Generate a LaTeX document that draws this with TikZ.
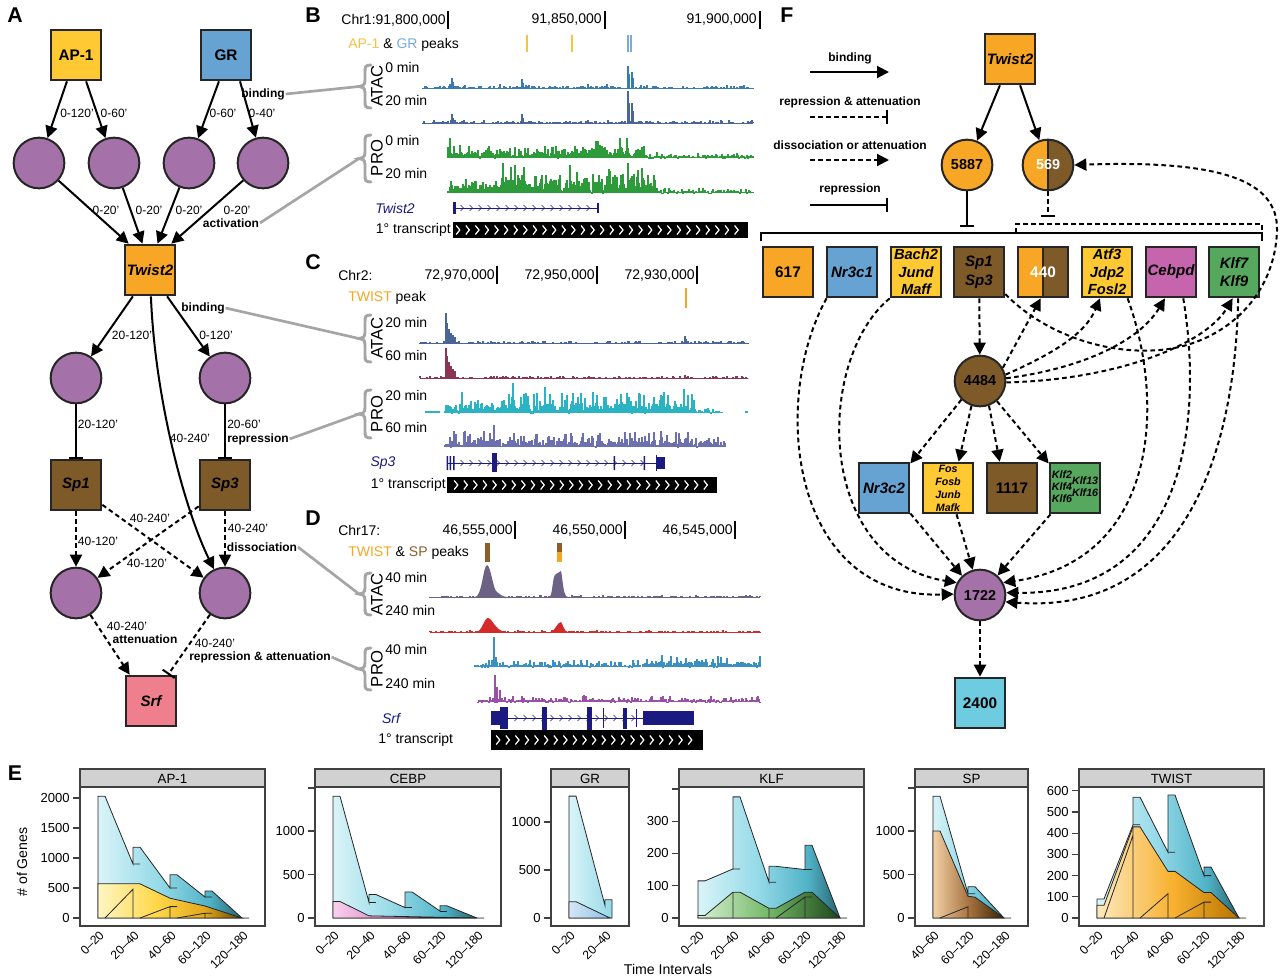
\documentclass[tikz,border=0pt]{standalone}
\usepackage{fontspec}
\setmainfont{Liberation Sans}
\usetikzlibrary{arrows.meta}
\definecolor{cyel}{HTML}{FFC933}
\definecolor{cblu}{HTML}{66A3D3}
\definecolor{cpur}{HTML}{A471A8}
\definecolor{cora}{HTML}{F8A625}
\definecolor{cbro}{HTML}{7E5A28}
\definecolor{cpnk}{HTML}{F07F8E}
\definecolor{cmag}{HTML}{C664AE}
\definecolor{cgrn}{HTML}{55A85E}
\definecolor{ccya}{HTML}{6DCCE0}
\definecolor{cnav}{HTML}{1A1A80}
\definecolor{cgry}{HTML}{A5A5A5}
\definecolor{apc}{HTML}{F5C242}
\definecolor{grc}{HTML}{78AADA}
\definecolor{twc}{HTML}{F5A623}
\definecolor{spc}{HTML}{8B5E2B}
\definecolor{tA1}{HTML}{3A7AB5}
\definecolor{tA2}{HTML}{4A6598}
\definecolor{tG}{HTML}{2E9B3A}
\definecolor{cA2}{HTML}{8B3550}
\definecolor{cP1}{HTML}{29B3C3}
\definecolor{cP2}{HTML}{6D70B0}
\definecolor{dA1}{HTML}{6C6285}
\definecolor{dA2}{HTML}{D42A2A}
\definecolor{dP1}{HTML}{3A90C0}
\definecolor{dP2}{HTML}{9A4FA8}
\definecolor{b0}{HTML}{DAF4F8}
\definecolor{b1}{HTML}{95DAE8}
\definecolor{b2}{HTML}{50B2C6}
\definecolor{b3}{HTML}{1C4E5A}
\definecolor{y0}{HTML}{FFF6C4}
\definecolor{y1}{HTML}{FFD84A}
\definecolor{y2}{HTML}{E3A81A}
\definecolor{y3}{HTML}{5E4208}
\definecolor{p0}{HTML}{F9D0EE}
\definecolor{p1}{HTML}{D070B8}
\definecolor{p3}{HTML}{5A1A4E}
\definecolor{l0}{HTML}{D6E6F6}
\definecolor{l1}{HTML}{8CC0E6}
\definecolor{g0}{HTML}{D9F0D2}
\definecolor{g1}{HTML}{72B866}
\definecolor{g3}{HTML}{1C461A}
\definecolor{r0}{HTML}{F2D0A6}
\definecolor{r1}{HTML}{A87440}
\definecolor{r3}{HTML}{3A2006}
\definecolor{o0}{HTML}{FDE9BE}
\definecolor{o1}{HTML}{F8B02E}
\definecolor{o3}{HTML}{B87400}
\pgfdeclarehorizontalshading{blsh}{100bp}{color(0bp)=(b0); color(25bp)=(b0); color(45bp)=(b1); color(62bp)=(b2); color(75bp)=(b3); color(100bp)=(b3)}
\pgfdeclarehorizontalshading{grsh}{100bp}{color(0bp)=(b0); color(25bp)=(b0); color(75bp)=(b1); color(100bp)=(b1)}
\pgfdeclarehorizontalshading{yesh}{100bp}{color(0bp)=(y0); color(25bp)=(y0); color(45bp)=(y1); color(62bp)=(y2); color(75bp)=(y3); color(100bp)=(y3)}
\pgfdeclarehorizontalshading{pksh}{100bp}{color(0bp)=(p0); color(25bp)=(p0); color(50bp)=(p1); color(75bp)=(p3); color(100bp)=(p3)}
\pgfdeclarehorizontalshading{lbsh}{100bp}{color(0bp)=(l0); color(25bp)=(l0); color(75bp)=(l1); color(100bp)=(l1)}
\pgfdeclarehorizontalshading{gnsh}{100bp}{color(0bp)=(g0); color(25bp)=(g0); color(50bp)=(g1); color(75bp)=(g3); color(100bp)=(g3)}
\pgfdeclarehorizontalshading{brsh}{100bp}{color(0bp)=(r0); color(25bp)=(r0); color(50bp)=(r1); color(75bp)=(r3); color(100bp)=(r3)}
\pgfdeclarehorizontalshading{orsh}{100bp}{color(0bp)=(o0); color(25bp)=(o0); color(52bp)=(o1); color(75bp)=(o3); color(100bp)=(o3)}
\newcommand\sig[6]{\foreach \xx in {#1,...,#2}{\pgfmathsetmacro\hh{#5*rnd+#6*rnd^4}\draw[#4,line width=0.9pt] (\xx,#3) -- (\xx,#3-\hh);}}
\newcommand\pk[4]{\draw[#4,line width=1pt] (#1,#2) -- (#1,#2-#3);}
\newcommand\gchev[4]{\foreach \cx in {#1,#2,...,#3}{\draw[cnav,line width=0.5pt] (\cx-1.5,#4-3) -- (\cx+1.5,#4) -- (\cx-1.5,#4+3);}}
\newcommand\tchev[4]{\foreach \cx in {#1,#2,...,#3}{\draw[white,line width=0.9pt] (\cx-1.8,#4-4.5) -- (\cx+1.8,#4) -- (\cx-1.8,#4+4.5);}}
\newcommand\cbrace[4]{\pgfmathsetmacro\bm{(#3+#4)/2}%
 \draw[cgry,line width=2.2pt,line cap=round] (#2+12,#3) .. controls (#2+6,#3) and (#2+6,#3+2) .. (#2+6,#3+7) -- (#2+6,\bm-6) .. controls (#2+6,\bm-1) and (#2+3,\bm) .. (#2,\bm) .. controls (#2+3,\bm) and (#2+6,\bm+1) .. (#2+6,\bm+6) -- (#2+6,#4-7) .. controls (#2+6,#4-2) and (#2+6,#4) .. (#2+12,#4);
 \coordinate (#1) at (#2,\bm);}
\newcommand\epanel[4]{\draw[black!75,line width=0.8pt,fill=black!18] (#1,769) rectangle (#2,787);
 \node[font=\fontsize{10}{11}\selectfont,inner sep=0pt] (#4) at ({(#1+#2)/2},778.5) {#3};
 \draw[black!75,line width=0.8pt] (#1,787) rectangle (#2,926);}
\newcommand\ytk[3]{\draw[black!75,line width=0.8pt] (#1-7,#2) -- (#1,#2); \node[ax,anchor=east] at (#1-10,#2) {#3};}
\newcommand\xlb[2]{\node[ax,font=\fontsize{9.2}{10}\selectfont,rotate=45,anchor=east] at (#1+4,933) {#2};}
\begin{document}
\begin{tikzpicture}[x=0.75pt,y=-0.75pt,
  box/.style={draw=black!85,line width=1.5pt,minimum width=38pt,minimum height=38pt,inner sep=0pt,align=center,font=\bfseries\fontsize{11.5}{13}\selectfont},
  gbox/.style={box,font=\bfseries\itshape\fontsize{11.3}{14}\selectfont},
  circ/.style={circle,draw=black!85,line width=1.5pt,minimum size=38pt,inner sep=0pt,font=\bfseries\fontsize{10.8}{12}\selectfont},
  arr/.style={line width=1.5pt,-{Triangle[length=9pt,width=9pt]}},
  darr/.style={arr,dash pattern=on 3.5pt off 2.5pt},
  rep/.style={line width=1.5pt,-{Bar[width=11pt,line width=1.5pt]}},
  drep/.style={rep,dash pattern=on 3.5pt off 2.5pt},
  lab/.style={font=\fontsize{9}{10}\selectfont,inner sep=0.5pt},
  blab/.style={font=\bfseries\fontsize{9}{10}\selectfont,inner sep=0.5pt},
  callout/.style={cgry,line width=2pt},
  trk/.style={font=\fontsize{10.5}{12}\selectfont,anchor=west,inner sep=0pt},
  plet/.style={font=\bfseries\fontsize{16}{18}\selectfont,inner sep=0pt},
  ax/.style={font=\fontsize{9.8}{11}\selectfont,inner sep=0pt},
  pl/.style={draw=black!85,line width=0.6pt},
]
\useasboundingbox (0,0) rectangle (1280,979);
\pgfmathsetseed{7}
% ================= panel letters
\node[plet] (LA) at (15,15) {A};
\node[plet] (LB) at (313,15) {B};
\node[plet] (LC) at (313,262) {C};
\node[plet] (LD) at (313,518) {D};
\node[plet] (LE) at (15,773) {E};
\node[plet] (LF) at (787,15) {F};
% ================= panel A
\node[box,fill=cyel] (ap1) at (76,55) {AP-1};
\node[box,fill=cblu] (gr) at (226,55) {GR};
\node[circ,fill=cpur] (a1) at (39,163) {};
\node[circ,fill=cpur] (a2) at (114,163) {};
\node[circ,fill=cpur] (a3) at (189,163) {};
\node[circ,fill=cpur] (a4) at (263,163) {};
\node[gbox,fill=cora] (tw) at (150,270) {Twist2};
\node[circ,fill=cpur] (a5) at (76,378) {};
\node[circ,fill=cpur] (a6) at (225,378) {};
\node[gbox,fill=cbro] (sp1) at (76,485) {Sp1};
\node[gbox,fill=cbro] (sp3) at (225,485) {Sp3};
\node[circ,fill=cpur] (a7) at (76,593) {};
\node[circ,fill=cpur] (a8) at (225,593) {};
\node[gbox,fill=cpnk] (srf) at (151,701) {Srf};
\draw[arr] (ap1.-109) -- (a1);
\draw[arr] (ap1.-69) -- (a2);
\draw[arr] (gr.-105) -- (a3);
\draw[arr] (gr.-62) -- (a4);
\draw[arr] (a1) -- (tw.129);
\draw[arr] (a2) -- (tw.106);
\draw[arr] (a3) -- (tw.74);
\draw[arr] (a4) -- (tw.51);
\draw[arr] (tw.-123) -- (a5);
\draw[arr] (tw.-57) -- (a6);
\draw[arr] (tw.-88) .. controls (155,400) and (185,510) .. (a8.115);
\draw[rep] (a5) -- (sp1);
\draw[rep] (a6) -- (sp3);
\draw[darr] (sp1) -- (a7);
\draw[darr] (sp3) -- (a8);
\draw[darr] (sp1.-37) -- (a8);
\draw[darr] (sp3.-141) -- (a7);
\draw[darr] (a7) -- (srf.129);
\draw[drep] (a8) -- (srf.57);
\node[lab] (e1) at (77,113) {0-120'};
\node[lab] (e2) at (114,113) {0-60'};
\node[lab] (e3) at (223,113) {0-60'};
\node[lab] (e4) at (262,113) {0-40'};
\node[blab] (bind1) at (263,94) {binding};
\node[lab] (e5) at (106,210) {0-20'};
\node[lab] (e6) at (149,210) {0-20'};
\node[lab] (e7) at (189,210) {0-20'};
\node[lab] (e8) at (237,210) {0-20'};
\node[blab] (act) at (231,223) {activation};
\node[blab] (bind2) at (203,308) {binding};
\node[lab] (e9) at (132,335) {20-120'};
\node[lab] (e10) at (216,335) {0-120'};
\node[lab] (e11) at (98,424) {20-120'};
\node[lab] (e12) at (190,438) {40-240'};
\node[lab] (e13) at (244,424) {20-60'};
\node[blab] (repr) at (258,439) {repression};
\node[lab] (e14) at (150,518) {40-240'};
\node[lab] (e15) at (98,541) {40-120'};
\node[lab] (e16) at (147,563) {40-120'};
\node[lab] (e17) at (248,528) {40-240'};
\node[blab] (diss) at (262,547) {dissociation};
\node[lab] (e18) at (127,626) {40-240'};
\node[blab] (att) at (145,639) {attenuation};
\node[lab] (e19) at (215,643) {40-240'};
\node[blab] (repatt) at (260,657) {repression \& attenuation};
% ================= braces and callouts
\cbrace{bA}{359}{65}{108}
\cbrace{bP}{359}{135}{182}
\cbrace{cA}{359}{315}{362}
\cbrace{cP}{359}{390}{438}
\cbrace{dA}{359}{573}{615}
\cbrace{dP}{359}{648}{690}
\draw[callout] (bind1.east) -- (bA);
\draw[callout] (act.east) -- (bP);
\draw[callout] (bind2.east) -- (cA);
\draw[callout] (repr.east) -- (cP);
\draw[callout] (diss.east) -- (dA);
\draw[callout] (repatt.east) -- (dP);
\foreach \yy/\tt/\nn in {86/ATAC/r1,158/PRO/r2,338/ATAC/r3,414/PRO/r4,594/ATAC/r5,669/PRO/r6}
  \node[rotate=90,font=\fontsize{12.5}{13}\selectfont,inner sep=0pt] (\nn) at (377,\yy) {\tt};
% ================= panel B
\node[trk,anchor=east] (b1) at (446,20) {Chr1:91,800,000};
\node[trk,anchor=east] (b2) at (602,20) {91,850,000};
\node[trk,anchor=east] (b3) at (757,20) {91,900,000};
\draw[line width=0.8pt] (448,11) -- (448,29) (605,11) -- (605,29) (760,11) -- (760,29);
\node[trk] (b4) at (348,45) {\textcolor{apc}{AP-1} \& \textcolor{grc}{GR} peaks};
\draw[apc,line width=1pt] (527,35) -- (527,52) (572,35) -- (572,52);
\draw[grc,line width=1pt] (628,35) -- (628,52) (631,35) -- (631,52);
\node[trk] (b5) at (385,67) {0 min};
\node[trk] (b6) at (385,100) {20 min};
\node[trk] (b7) at (385,140) {0 min};
\node[trk] (b8) at (385,173) {20 min};
\draw[tA1,line width=0.6pt] (423,88) -- (753,88);
\sig{423}{753}{88}{tA1}{0.4}{2.5}
\foreach \px/\ph in {450/4,452/10,453/6,500/4,522/9,523/5,588/4,607/4,628/22,629/14,632/16,633/10,641/3} {\pk{\px}{88}{\ph}{tA1}}
\draw[tA2,line width=0.6pt] (423,123) -- (753,123);
\sig{423}{753}{123}{tA2}{0.4}{2.5}
\foreach \px/\ph in {452/9,453/5,522/9,523/5,588/3,628/32,629/20,632/20,633/12} {\pk{\px}{123}{\ph}{tA2}}
\sig{448}{560}{158}{tG}{6}{9}
\sig{561}{645}{158}{tG}{9}{12}
\sig{646}{753}{158}{tG}{2}{4}
\pk{450}{158}{20}{tG}\pk{620}{158}{18}{tG}
\sig{448}{500}{193}{tG}{7}{10}
\sig{501}{655}{193}{tG}{13}{18}
\sig{656}{753}{193}{tG}{2}{4}
\pk{503}{193}{30}{tG}\pk{628}{193}{30}{tG}
\node[font=\itshape\fontsize{10.5}{12}\selectfont,text=cnav,inner sep=0pt] (bg) at (395,208) {Twist2};
\draw[cnav,line width=0.6pt] (453,208) -- (598,208);
\gchev{462}{471}{592}{208}
\fill[cnav] (453,202) rectangle (456,214);
\fill[cnav] (597,203) rectangle (599,213);
\node[trk,anchor=east] (bt) at (451,230) {1° transcript};
\fill[black] (453,222) rectangle (748,238);
\tchev{458}{467.6}{742}{230}
% ================= panel C
\node[trk] (c1) at (338,275) {Chr2:};
\node[trk,anchor=east] (c2) at (495,275) {72,970,000};
\node[trk,anchor=east] (c3) at (595,275) {72,950,000};
\node[trk,anchor=east] (c4) at (695,275) {72,930,000};
\draw[line width=0.8pt] (497,266) -- (497,284) (597,266) -- (597,284) (697,266) -- (697,284);
\node[trk] (c5) at (348,298) {\textcolor{twc}{TWIST} peak};
\draw[twc,line width=1pt] (686,288) -- (686,308);
\node[trk] (c6) at (385,322) {20 min};
\node[trk] (c7) at (385,355) {60 min};
\node[trk] (c8) at (385,395) {20 min};
\node[trk] (c9) at (385,427) {60 min};
\draw[tA2,line width=0.6pt] (420,343) -- (748,343);
\sig{420}{748}{343}{tA2}{0.3}{2}
\foreach \px/\ph in {446/30,447/20,449/14,451/10,453/8,455/6,685/7,686/4} {\pk{\px}{343}{\ph}{tA2}}
\draw[cA2,line width=0.6pt] (420,378) -- (748,378);
\sig{420}{748}{378}{cA2}{0.3}{2}
\foreach \px/\ph in {446/30,447/22,449/16,451/12,453/9,455/7,685/3} {\pk{\px}{378}{\ph}{cA2}}
\sig{445}{695}{413}{cP1}{9}{16}
\sig{696}{722}{413}{cP1}{2}{3}
\draw[cP1,line width=2pt] (425,412) -- (440,412) (745,412) -- (748,412);
\pk{513}{413}{30}{cP1}\pk{545}{413}{26}{cP1}\pk{684}{413}{24}{cP1}
\sig{445}{725}{447}{cP2}{6}{12}
\pk{494}{447}{22}{cP2}
\node[font=\itshape\fontsize{10.5}{12}\selectfont,text=cnav,inner sep=0pt] (cg) at (383,463) {Sp3};
\draw[cnav,line width=0.6pt] (447,463) -- (665,463);
\gchev{462}{471}{650}{463}
\fill[cnav] (446.5,456) rectangle (448,470) (449.5,456) rectangle (451,470) (453,456) rectangle (454.5,470);
\fill[cnav] (492,453) rectangle (497,472);
\fill[cnav] (613.5,456) rectangle (615,470) (643.5,456) rectangle (645,470);
\fill[cnav] (655.5,455) rectangle (657,471);
\fill[cnav] (657,457) rectangle (665,469);
\node[trk,anchor=east] (ct) at (446,485) {1° transcript};
\fill[black] (447,477) rectangle (717,493);
\tchev{456}{465.6}{710}{485}
% ================= panel D
\node[trk] (d1) at (338,530) {Chr17:};
\node[trk,anchor=east] (d2) at (513,530) {46,555,000};
\node[trk,anchor=east] (d3) at (623,530) {46,550,000};
\node[trk,anchor=east] (d4) at (733,530) {46,545,000};
\draw[line width=0.8pt] (515,521) -- (515,539) (625,521) -- (625,539) (735,521) -- (735,539);
\node[trk] (d5) at (348,553) {\textcolor{twc}{TWIST} \& \textcolor{spc}{SP} peaks};
\fill[spc] (485,543) rectangle (490,562);
\fill[spc] (557,543) rectangle (562,552);
\fill[twc] (557,552) rectangle (562,562);
\node[trk] (d6) at (385,577) {40 min};
\node[trk] (d7) at (385,610) {240 min};
\node[trk] (d8) at (385,649) {40 min};
\node[trk] (d9) at (385,683) {240 min};
\draw[dA1,line width=0.7pt] (430,597) -- (760,597);
\sig{430}{760}{597}{dA1}{0.3}{1.5}
\fill[dA1] (475,597) .. controls (482,597) and (483,566) .. (487,565) .. controls (491,566) and (493,590) .. (497,592) .. controls (500,594) and (502,597) .. (508,597) -- cycle;
\fill[dA1] (549,597) .. controls (553,597) and (552,575) .. (556,574) .. controls (560,572) and (560,571) .. (561,571) .. controls (563,580) and (563,597) .. (568,597) -- cycle;
\draw[dA2,line width=0.7pt] (430,632) -- (760,632);
\sig{430}{760}{632}{dA2}{0.3}{1.5}
\fill[dA2] (476,632) .. controls (482,632) and (484,618) .. (488,618) .. controls (492,618) and (495,630) .. (505,632) -- cycle;
\fill[dA2] (550,632) .. controls (555,632) and (557,622) .. (561,622) .. controls (563,624) and (564,632) .. (568,632) -- cycle;
\sig{475}{640}{667}{dP1}{2}{6}
\sig{643}{760}{667}{dP1}{5}{9}
\pk{494}{667}{30}{dP1}\pk{496}{667}{10}{dP1}
\sig{478}{760}{702}{dP2}{2}{5}
\pk{495}{702}{27}{dP2}\pk{497}{702}{15}{dP2}\pk{500}{702}{12}{dP2}
\node[font=\itshape\fontsize{10.5}{12}\selectfont,text=cnav,inner sep=0pt] (dg) at (391,718) {Srf};
\draw[cnav,line width=0.6pt] (491,718) -- (694,718);
\gchev{516}{525}{640}{718}
\fill[cnav] (491,711) rectangle (500,725);
\fill[cnav] (500,707) rectangle (508,729);
\fill[cnav] (542,707) rectangle (547,731);
\fill[cnav] (587,707) rectangle (592,731);
\fill[cnav] (602.5,708) rectangle (604,728);
\fill[cnav] (623,708) rectangle (627,729);
\fill[cnav] (635.5,709) rectangle (637,727);
\fill[cnav] (643,711) rectangle (694,725);
\node[trk] (dt) at (378,740) {1° transcript};
\fill[black] (491,730) rectangle (703,750);
\tchev{498}{507.6}{698}{740}
% ================= panel F
\node[blab] (lg1) at (850,58) {binding};
\node[blab] (lg2) at (850,102) {repression \& attenuation};
\node[blab] (lg3) at (850,145) {dissociation or attenuation};
\node[blab] (lg4) at (850,189) {repression};
\coordinate (l1a) at (810,72); \coordinate (l1b) at (889,72);
\coordinate (l2a) at (810,117); \coordinate (l2b) at (888,117);
\coordinate (l3a) at (810,160); \coordinate (l3b) at (889,160);
\coordinate (l4a) at (810,205); \coordinate (l4b) at (888,205);
\draw[arr] (l1a) -- (l1b);
\draw[drep] (l2a) -- (l2b);
\draw[darr] (l3a) -- (l3b);
\draw[rep] (l4a) -- (l4b);
\node[gbox,fill=cora] (ftw) at (1010,59) {Twist2};
\node[circ,fill=cora] (c5887) at (967,165) {5887};
\node[circ,fill=cora,text=white,path picture={\fill[cbro] (path picture bounding box.north) rectangle (path picture bounding box.south east); \draw[black!85,line width=1.5pt] (path picture bounding box.north) -- (path picture bounding box.south);}] (c569) at (1048,165) {569};
\draw[arr] (ftw.-111) -- (c5887);
\draw[arr] (ftw.-69) -- (c569);
\coordinate (b5887) at (967,227);
\coordinate (b569) at (1048,217);
\draw[rep] (c5887) -- (b5887);
\draw[drep] (c569) -- (b569);
\coordinate (k1) at (761,241); \coordinate (k2) at (761,233); \coordinate (k3) at (1262,233); \coordinate (k4) at (1262,241);
\draw[line width=1.5pt] (k1) -- (k2) -- (k3) -- (k4);
\coordinate (j1) at (1016,233); \coordinate (j2) at (1016,224); \coordinate (j3) at (1262,224);
\draw[line width=1.5pt,dash pattern=on 3.5pt off 2.5pt] (j1) -- (j2) -- (j3) -- (k3);
\node[box,fill=cora] (n617) at (788,272) {617};
\node[gbox,fill=cblu] (nNr1) at (852,272) {Nr3c1};
\node[gbox,fill=cyel,font=\bfseries\itshape\fontsize{11}{13}\selectfont] (nBach) at (916,272) {Bach2\\Jund\\Maff};
\node[gbox,fill=cbro] (nSp) at (979,272) {Sp1\\Sp3};
\node[box,fill=cora,text=white,path picture={\fill[cbro] (path picture bounding box.north) rectangle (path picture bounding box.south east); \draw[black!85,line width=1.5pt] (path picture bounding box.north) -- (path picture bounding box.south);}] (n440) at (1043,272) {440};
\node[gbox,fill=cyel,font=\bfseries\itshape\fontsize{11}{13}\selectfont] (nAtf) at (1107,272) {Atf3\\Jdp2\\Fosl2};
\node[gbox,fill=cmag] (nCeb) at (1171,272) {Cebpd};
\node[gbox,fill=cgrn] (nKlf7) at (1234,272) {Klf7\\Klf9};
\node[circ,fill=cbro] (c4484) at (980,381) {4484};
\node[gbox,fill=cblu] (nNr2) at (884,488) {Nr3c2};
\node[gbox,fill=cyel,font=\bfseries\itshape\fontsize{8}{9.8}\selectfont] (nFos) at (948,488) {Fos\\Fosb\\Junb\\Mafk};
\node[box,fill=cbro] (n1117) at (1012,488) {1117};
\node[gbox,fill=cgrn,font=\bfseries\itshape\fontsize{8}{9.3}\selectfont] (nKlf2) at (1075,488) {\begin{tabular}{@{}l@{}}Klf2\\Klf4\\Klf6\end{tabular}\begin{tabular}{@{}l@{}}Klf13\\Klf16\end{tabular}};
\node[circ,fill=cpur] (c1722) at (980,595) {1722};
\node[box,fill=ccya] (n2400) at (980,703) {2400};
\draw[darr] (nSp) -- (c4484);
\draw[darr] (c4484.30) -- (n440.-95);
\draw[darr] (c4484.14) .. controls (1050,355) and (1085,335) .. (nAtf.-105);
\draw[darr] (c4484.6) .. controls (1085,368) and (1140,340) .. (nCeb.-103);
\draw[darr] (c4484.-3) .. controls (1115,380) and (1205,345) .. (nKlf7.-93);
\draw[darr] (nSp.-40) .. controls (1040,330) and (1100,355) .. (1160,350) .. controls (1220,345) and (1275,300) .. (1277,230) .. controls (1278,180) and (1220,160) .. (c569.east);
\draw[darr] (c4484.-135) -- (nNr2.43);
\draw[darr] (c4484.-109) -- (nFos.68);
\draw[darr] (c4484.-70) -- (n1117.115);
\draw[darr] (c4484.-50) -- (nKlf2.137);
\draw[darr] (nNr2.-44) -- (c1722.133);
\draw[darr] (nFos.-72) -- (c1722.106);
\draw[darr] (nKlf2.-133) -- (c1722.48);
\draw[darr] (nNr1.-134) .. controls (770,400) and (790,600) .. (c1722.178);
\draw[darr] (nBach.-135) .. controls (815,360) and (815,560) .. (c1722.152);
\draw[darr] (nAtf.-52) .. controls (1165,400) and (1160,560) .. (c1722.28);
\draw[darr] (nCeb.-65) .. controls (1205,430) and (1180,595) .. (c1722.5);
\draw[darr] (nKlf7.-81) .. controls (1235,460) and (1180,615) .. (c1722.-15);
\draw[darr] (c1722) -- (n2400);
% ================= panel E
\node[font=\fontsize{10.6}{12}\selectfont,rotate=90,inner sep=0pt] (ylab) at (22,862) {\# of Genes};
\node[font=\fontsize{10.6}{12}\selectfont,inner sep=0pt] (xlab) at (668,969) {Time Intervals};
% AP-1
\begin{scope}[shift={(0,918)},yscale=-0.06]
\shadedraw[shading=blsh,pl] (98,0) -- (98,2030) -- (105,2030) -- (133,900) -- (133,1180) -- (140,1180) -- (170,500) -- (170,720) -- (177,720) -- (205,350) -- (205,450) -- (212,450) -- (242,0) -- (249,0) -- cycle;
\shadedraw[shading=yesh,pl] (98,0) -- (98,570) -- (140,570) -- (170,330) -- (205,200) -- (242,0) -- cycle;
\draw[pl] (105,0) -- (133,480) -- (133,0) (140,0) -- (170,190) -- (177,190) (170,190) -- (170,0) (177,0) -- (205,80) -- (212,80) (205,80) -- (205,0) (133,900) -- (140,900) (170,500) -- (177,500) (205,350) -- (212,350);
\end{scope}
\epanel{80}{265}{AP-1}{hA}
\ytk{80}{918}{0}\ytk{80}{888}{500}\ytk{80}{858}{1000}\ytk{80}{828}{1500}\ytk{80}{798}{2000}
\xlb{98}{0--20}\xlb{133}{20--40}\xlb{170}{40--60}\xlb{205}{60--120}\xlb{242}{120--180}
% CEBP
\begin{scope}[shift={(0,918)},yscale=-0.087]
\shadedraw[shading=blsh,pl] (333,0) -- (333,1400) -- (340,1400) -- (369,180) -- (369,270) -- (376,270) -- (405,120) -- (405,300) -- (412,300) -- (440,80) -- (440,140) -- (447,140) -- (477,0) -- (484,0) -- cycle;
\shadedraw[shading=pksh,pl] (333,0) -- (333,190) -- (340,190) -- (369,25) -- (477,0) -- cycle;
\draw[pl] (369,180) -- (376,180) (405,120) -- (412,120) (440,80) -- (447,80);
\end{scope}
\epanel{315}{501}{CEBP}{hC}
\ytk{315}{918}{0}\ytk{315}{874.5}{500}\ytk{315}{831}{1000}
\draw[black!75,line width=0.8pt] (308,788) -- (315,788);
\xlb{333}{0--20}\xlb{369}{20--40}\xlb{405}{40--60}\xlb{440}{60--120}\xlb{477}{120--180}
% GR
\begin{scope}[shift={(0,918)},yscale=-0.096]
\shadedraw[shading=grsh,pl] (569,0) -- (569,1270) -- (576,1270) -- (605,130) -- (605,190) -- (612,190) -- (612,0) -- cycle;
\shadedraw[shading=lbsh,pl] (569,0) -- (569,170) -- (576,170) -- (610,0) -- cycle;
\end{scope}
\epanel{551}{629}{GR}{hG}
\ytk{551}{918}{0}\ytk{551}{870}{500}\ytk{551}{822}{1000}
\xlb{569}{0--20}\xlb{605}{20--40}
% KLF
\begin{scope}[shift={(0,918)},yscale=-0.323]
\shadedraw[shading=blsh,pl] (698,0) -- (698,115) -- (705,115) -- (733,152) -- (733,375) -- (740,375) -- (769,111) -- (769,160) -- (776,160) -- (805,150) -- (805,225) -- (812,225) -- (840,0) -- (847,0) -- cycle;
\shadedraw[shading=gnsh,pl] (698,0) -- (698,8) -- (705,8) -- (733,80) -- (740,80) -- (769,30) -- (776,30) -- (805,80) -- (812,80) -- (840,0) -- cycle;
\draw[pl] (733,80) -- (733,0) (769,30) -- (769,0) (776,0) -- (805,65) -- (812,65) (805,65) -- (805,0) (733,152) -- (740,152) (769,111) -- (776,111) (805,150) -- (812,150);
\end{scope}
\epanel{679}{864}{KLF}{hK}
\ytk{679}{918}{0}\ytk{679}{885.7}{100}\ytk{679}{853.4}{200}\ytk{679}{821.1}{300}
\draw[black!75,line width=0.8pt] (672,789) -- (679,789);
\xlb{698}{0--20}\xlb{733}{20--40}\xlb{769}{40--60}\xlb{805}{60--120}\xlb{840}{120--180}
% SP
\begin{scope}[shift={(0,918)},yscale=-0.087]
\shadedraw[shading=blsh,pl] (933,0) -- (933,1400) -- (940,1400) -- (968,280) -- (968,360) -- (975,360) -- (1004,0) -- (1011,0) -- cycle;
\shadedraw[shading=brsh,pl] (933,0) -- (933,1000) -- (940,1000) -- (968,250) -- (975,240) -- (1004,0) -- cycle;
\draw[pl] (940,0) -- (968,130) -- (968,0) (968,280) -- (975,280);
\end{scope}
\epanel{915}{1028}{SP}{hS}
\ytk{915}{918}{0}\ytk{915}{874.5}{500}\ytk{915}{831}{1000}
\draw[black!75,line width=0.8pt] (908,788) -- (915,788);
\xlb{933}{40--60}\xlb{968}{60--120}\xlb{1004}{120--180}
% TWIST
\begin{scope}[shift={(0,918)},yscale=-0.212]
\shadedraw[shading=blsh,pl] (1097,0) -- (1097,90) -- (1104,90) -- (1133,440) -- (1133,570) -- (1140,570) -- (1168,310) -- (1168,580) -- (1175,580) -- (1204,200) -- (1204,240) -- (1211,240) -- (1239,0) -- (1246,0) -- cycle;
\shadedraw[shading=orsh,pl] (1097,0) -- (1097,60) -- (1104,60) -- (1133,430) -- (1140,430) -- (1168,220) -- (1175,220) -- (1204,120) -- (1211,120) -- (1239,0) -- cycle;
\draw[pl] (1104,0) -- (1133,390) (1133,430) -- (1133,0) (1140,0) -- (1168,115) -- (1168,0) (1175,0) -- (1204,75) -- (1211,75) (1204,75) -- (1204,0) (1168,310) -- (1175,310) (1204,200) -- (1211,200) (1133,440) -- (1140,440);
\end{scope}
\epanel{1079}{1264}{TWIST}{hT}
\ytk{1079}{918}{0}\ytk{1079}{896.8}{100}\ytk{1079}{875.6}{200}\ytk{1079}{854.4}{300}\ytk{1079}{833.2}{400}\ytk{1079}{812}{500}\ytk{1079}{790.8}{600}
\xlb{1097}{0--20}\xlb{1133}{20--40}\xlb{1168}{40--60}\xlb{1204}{60--120}\xlb{1239}{120--180}
\end{tikzpicture}
\end{document}
